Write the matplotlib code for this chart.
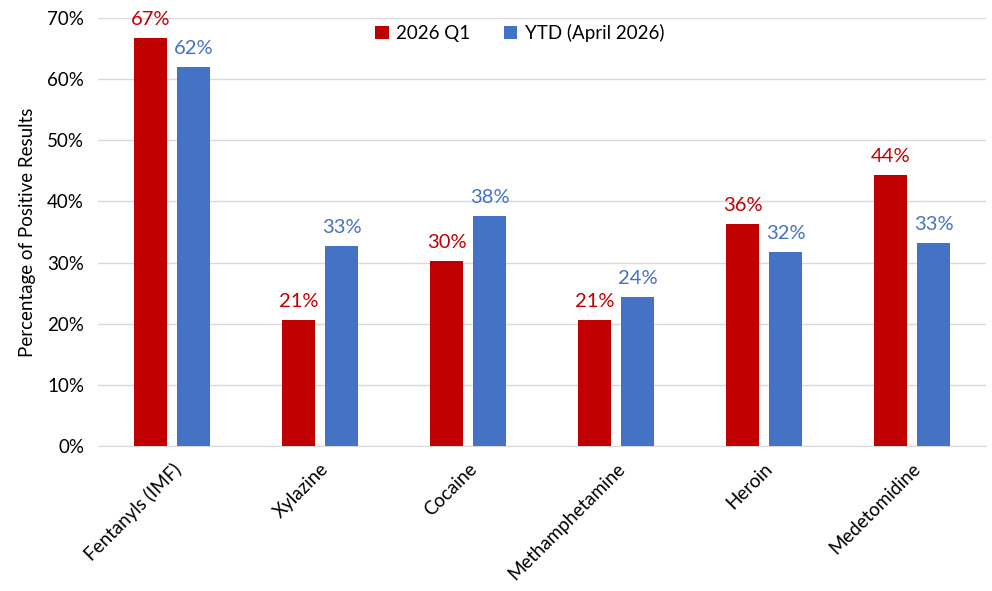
import numpy as np
import matplotlib.pyplot as plt

# data
categories = ["Fentanyls (IMF)", "Xylazine", "Cocaine", "Methamphetamine", "Heroin", "Medetomidine"]
q1_values = [66.7, 20.6, 30.3, 20.6, 36.3, 44.3]
ytd_values = [62.0, 32.7, 37.6, 24.4, 31.7, 33.2]
series_names = ["2026 Q1", "YTD (April 2026)"]
y_ticks = [0, 10, 20, 30, 40, 50, 60, 70]

RED = "#C00000"
BLUE = "#4472C4"

plt.rcParams['font.family'] = ['Lato', 'DejaVu Sans']

fig = plt.figure(figsize=(9.92, 5.91), dpi=100)
ax = fig.add_axes([98 / 992, 1 - 446 / 591, 888 / 992, 428 / 591])

x = np.arange(len(categories))
w = 0.223
off = 0.145
b1 = ax.bar(x - off, q1_values, w, color=RED, label=series_names[0], zorder=3)
b2 = ax.bar(x + off, ytd_values, w, color=BLUE, label=series_names[1], zorder=3)

for rect, v in zip(b1, q1_values):
    ax.annotate(f"{v:.0f}%", (rect.get_x() + rect.get_width() / 2, v),
                xytext=(0, 7), textcoords="offset points", ha="center", va="bottom",
                color=RED, fontsize=14.5)
for rect, v in zip(b2, ytd_values):
    ax.annotate(f"{v:.0f}%", (rect.get_x() + rect.get_width() / 2, v),
                xytext=(0, 7), textcoords="offset points", ha="center", va="bottom",
                color=BLUE, fontsize=14.5)

ax.set_xlim(-0.5, len(categories) - 0.5)
ax.set_ylim(0, 70)
ax.set_yticks(y_ticks)
ax.set_yticklabels([f"{t}%" for t in y_ticks], fontsize=13.5)
ax.set_xticks(x)
ax.set_xticklabels(categories, rotation=45, ha="right", rotation_mode="anchor", fontsize=13.5)
ax.tick_params(length=0)
ax.tick_params(axis="x", pad=10)
ax.tick_params(axis="y", pad=10)
ax.yaxis.grid(True, color="#d9d9d9", linewidth=1, zorder=0)
for s in ["top", "right", "left"]:
    ax.spines[s].set_visible(False)
ax.spines["bottom"].set_color("#d9d9d9")

ax.set_ylabel("Percentage of Positive Results", fontsize=13.5, labelpad=8)

ax.legend(loc="upper center", bbox_to_anchor=(0.475, 1.025), ncol=2, frameon=False,
          fontsize=13.5, handlelength=0.7, handleheight=0.7, columnspacing=1.8,
          handletextpad=0.4)

fig.savefig("out.png", dpi=100)
